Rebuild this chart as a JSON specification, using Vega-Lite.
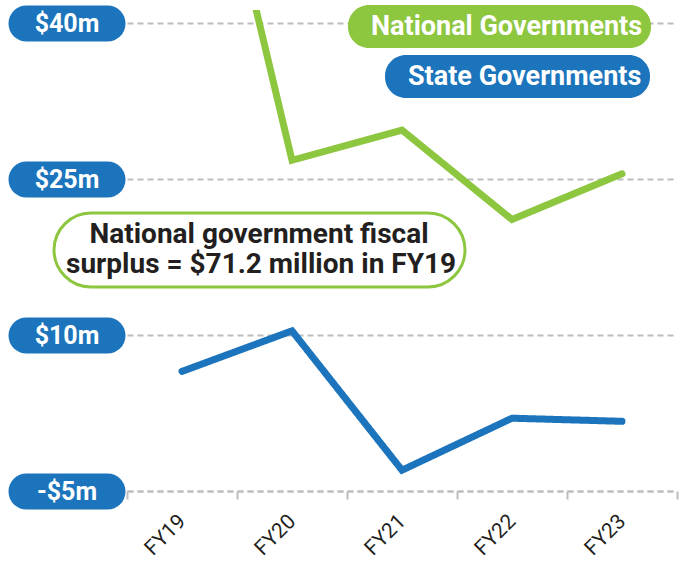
{
  "$schema": "https://vega.github.io/schema/vega-lite/v6.json",
  "autosize": "none",
  "width": 550,
  "height": 481,
  "padding": {"left": 127, "top": 10, "right": 9, "bottom": 70},
  "background": "white",
  "config": {"view": {"stroke": null}, "font": "Roboto", "legend": {"strokeWidth": 3}},
  "data": {"values": [
    {"fy": "FY19", "series": "National Governments", "value": 71.2},
    {"fy": "FY20", "series": "National Governments", "value": 26.8},
    {"fy": "FY21", "series": "National Governments", "value": 29.7},
    {"fy": "FY22", "series": "National Governments", "value": 21.1},
    {"fy": "FY23", "series": "National Governments", "value": 25.5},
    {"fy": "FY19", "series": "State Governments", "value": 6.5},
    {"fy": "FY20", "series": "State Governments", "value": 10.4},
    {"fy": "FY21", "series": "State Governments", "value": -3.0},
    {"fy": "FY22", "series": "State Governments", "value": 2.0},
    {"fy": "FY23", "series": "State Governments", "value": 1.7}
  ]},
  "encoding": {
    "x": {"field": "fy", "type": "nominal", "bandPosition": 0.5,
      "scale": {"type": "band", "domain": ["FY19", "FY20", "FY21", "FY22", "FY23"], "paddingInner": 0, "paddingOuter": 0},
      "axis": {"orient": "bottom", "title": null, "grid": false, "domain": true, "domainColor": "#bdbdbd", "domainDash": [6, 4], "domainWidth": 2,
        "ticks": true, "tickBand": "extent", "tickColor": "#bdbdbd", "tickSize": 8, "tickWidth": 2,
        "labelAngle": -45, "labelAlign": "right", "labelBaseline": "middle", "labelPadding": 19,
        "labelFont": "Roboto", "labelFontSize": 21, "labelColor": "#231f20"}},
    "y": {"field": "value", "type": "quantitative",
      "scale": {"domain": [-5, 41.25], "nice": false, "zero": false},
      "axis": {"orient": "left", "title": null, "values": [-5, 10, 25, 40], "offset": 20, "domain": false,
        "ticks": true, "tickSize": 81, "tickWidth": 36, "tickCap": "round", "tickColor": "#1c75bc",
        "labelAlign": "center", "labelBaseline": "middle", "labelPadding": -40.5, "labelFlush": false, "labelOverlap": false, "labelBound": false,
        "labelColor": "white", "labelFont": "Roboto", "labelFontWeight": "bold", "labelFontSize": 25,
        "labelExpr": "datum.value < 0 ? '-$' + abs(datum.value) + 'm' : '$' + datum.value + 'm'",
        "grid": true, "gridColor": "#bdbdbd", "gridDash": [6, 4], "gridWidth": 2}}
  },
  "layer": [
    {
      "transform": [{"filter": "datum.series === 'National Governments'"}],
      "mark": {"type": "line", "strokeWidth": 7, "strokeCap": "round", "strokeJoin": "miter", "clip": true},
      "encoding": {
        "color": {"field": "series", "type": "nominal",
          "scale": {"domain": ["National Governments"], "range": ["#8dc63f"]},
          "legend": {"orient": "none", "legendX": 221, "legendY": -5, "title": null,
            "fillColor": "#8dc63f", "cornerRadius": 21, "padding": 8,
            "symbolSize": 0, "symbolOpacity": 0, "symbolStrokeWidth": 0, "labelOffset": -12,
            "labelFont": "Roboto", "labelFontWeight": "bold", "labelFontSize": 27, "labelColor": "white", "labelLimit": 500}}
      }
    },
    {
      "transform": [{"filter": "datum.series === 'State Governments'"}],
      "mark": {"type": "line", "strokeWidth": 7, "strokeCap": "round", "strokeJoin": "miter", "color": "#1c75bc", "clip": true},
      "encoding": {
        "strokeDash": {"field": "series", "type": "nominal",
          "scale": {"domain": ["State Governments"], "range": [[1, 0]]},
          "legend": {"orient": "none", "legendX": 258, "legendY": 45, "title": null,
            "fillColor": "#1c75bc", "cornerRadius": 21, "padding": 8,
            "symbolSize": 0, "symbolOpacity": 0, "symbolStrokeWidth": 0, "labelOffset": -12,
            "labelFont": "Roboto", "labelFontWeight": "bold", "labelFontSize": 27, "labelColor": "white", "labelLimit": 500}}
      }
    },
    {
      "data": {"values": [{"note": "surplus = $71.2 million in FY19"}]},
      "mark": {"type": "point", "opacity": 0},
      "encoding": {
        "x": {"value": 0},
        "y": {"value": 0},
        "shape": {"field": "note", "type": "nominal",
          "scale": {"domain": ["surplus = $71.2 million in FY19"], "range": ["circle"]},
          "legend": {"orient": "none", "legendX": -73, "legendY": 203,
            "title": "National government fiscal", "titleAnchor": "middle", "titleFont": "Roboto", "titleFontWeight": "bold", "titleFontSize": 28, "titleColor": "#231f20", "titlePadding": 2, "titleLimit": 600,
            "fillColor": "white", "strokeColor": "#8dc63f", "cornerRadius": 37, "padding": 8,
            "symbolSize": 0, "symbolOpacity": 0, "symbolStrokeWidth": 0, "labelOffset": -24,
            "labelFont": "Roboto", "labelFontWeight": "bold", "labelFontSize": 28, "labelColor": "#231f20", "labelLimit": 600}
        }
      }
    }
  ]
}
